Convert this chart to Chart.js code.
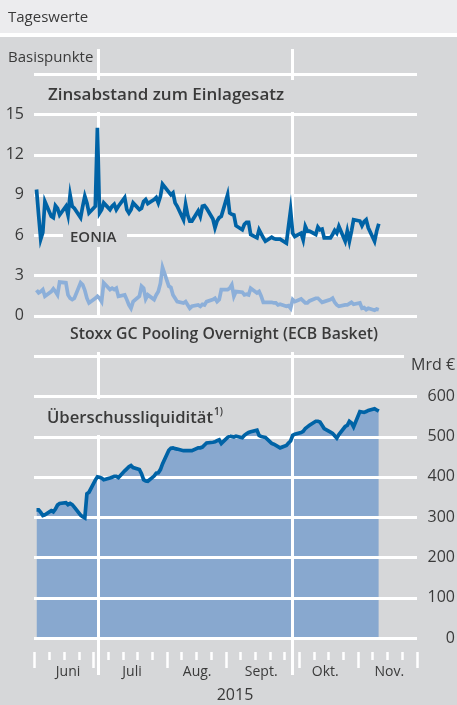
<!DOCTYPE html>
<html>
<head>
<meta charset="utf-8">
<script src="https://cdn.jsdelivr.net/npm/chart.js@4.4.1/dist/chart.umd.min.js"></script>
<style>
  html, body { margin: 0; padding: 0; background: #d6d7d9; }
  #wrap { position: relative; width: 457px; height: 705px; }
</style>
</head>
<body>
<div id="wrap"><canvas id="chart" width="457" height="705"></canvas></div>
<script>
// Tageswerte, 1 June - 11 Nov 2015, one value per business day
const eonia = [
  9.4, 7.5, 5.7, 6.2, 8.5, 7.4, 7.3, 8.2, 8.0, 7.5, 8.15, 7.5, 9.0, 8.15, 8.0, 7.3, 8.15, 8.9, 8.4, 7.65, 8.15, 14.0,
  7.65, 7.9, 8.4, 7.9, 8.15, 8.3, 7.9, 8.15, 8.8, 7.9, 7.65, 7.9, 8.4, 7.9, 8.0, 8.5, 8.65, 8.35, 8.65, 8.8, 8.4, 8.9, 9.8,
  9.2, 9.0, 9.15, 8.4, 8.15, 7.15, 8.3, 7.5, 7.05, 7.05, 7.8, 7.4, 8.15, 8.2, 8.0, 7.2, 6.55, 7.05, 7.3, 7.4, 9.0,
  7.65, 7.55, 7.5, 6.7, 6.4, 6.8, 6.95, 6.95, 6.05, 5.8, 6.4, 6.1, 5.8, 5.55, 5.85, 5.75, 5.7, 5.7, 5.7, 5.4, 6.65, 7.85,
  6.15, 5.9, 6.15, 5.65, 6.65, 6.3, 6.3, 6.05, 6.6, 6.4, 6.45, 5.8, 5.8, 6.05, 6.35, 6.15, 6.65, 5.55, 6.3, 5.55, 6.3, 7.15,
  7.05, 6.7, 7.0, 7.15, 6.55, 5.55, 6.3, 6.85
];
const stoxx = [
  1.9, 1.7, 1.8, 1.95, 1.45, 1.8, 2.0, 1.8, 1.55, 2.5, 2.45, 1.55, 1.3, 1.2, 1.3, 2.45, 2.3, 1.9, 1.3, 0.95, 1.3, 1.45,
  1.3, 1.05, 2.45, 1.95, 2.05, 1.95, 2.05, 1.45, 1.55, 1.2, 0.8, 0.55, 1.05, 1.45, 2.2, 2.05, 1.25, 1.55, 1.2, 1.55, 1.8, 2.4, 3.6,
  2.2, 2.1, 1.55, 1.3, 1.05, 0.95, 1.05, 0.8, 0.55, 0.7, 0.8, 0.7, 0.85, 0.8, 1.05, 1.2, 1.3, 1.05, 1.2, 1.95, 1.95,
  2.05, 2.3, 1.45, 1.8, 1.75, 1.55, 1.6, 1.55, 2.05, 1.7, 1.8, 1.45, 1.0, 1.0, 1.0, 0.95, 0.95, 0.8, 0.85, 0.7, 0.75, 0.55,
  1.2, 1.05, 1.25, 1.1, 0.95, 0.95, 1.1, 1.3, 1.3, 1.15, 1.0, 1.05, 1.2, 1.3, 1.0, 0.8, 0.7, 0.8, 0.8, 0.9, 1.0, 0.85,
  0.95, 0.55, 0.6, 0.45, 0.55, 0.4, 0.5, 0.45
];
// Überschussliquidität, Mrd €
const liquidity = [
  318, 318, 312, 304, 306, 316, 313, 320, 330, 334, 336, 331, 334, 331, 325, 305, 301, 298, 358, 362, 392, 400,
  399, 397, 393, 397, 399, 401, 401, 398, 415, 420, 425, 428, 423, 418, 408, 393, 390, 389, 402, 409, 410, 418, 432,
  466, 471, 472, 470, 469, 465, 465, 465, 465, 465, 472, 472, 474, 479, 484, 486, 487, 490, 492, 483, 498,
  501, 500, 499, 501, 497, 503, 507, 510, 512, 516, 503, 500, 499, 498, 483, 481, 478, 475, 472, 478, 484, 489,
  503, 506, 510, 513, 520, 524, 528, 538, 538, 536, 528, 520, 511, 508, 502, 496, 505, 525, 528, 538, 534, 524,
  562, 561, 560, 562, 565, 569, 566, 563
];
const monthNames = ['Juni', 'Juli', 'Aug.', 'Sept.', 'Okt.', 'Nov.'];
const yearLabel = '2015';
const leftTicks = [0, 3, 6, 9, 12, 15];
const rightTicks = [0, 100, 200, 300, 400, 500, 600];

// day offsets from 1 June 2015
const START = new Date(2015, 5, 1);
const dayOf = d => Math.round((d - START) / 86400000);
const businessDays = [];
for (let d = new Date(START); businessDays.length < eonia.length; d.setDate(d.getDate() + 1)) {
  const wd = d.getDay();
  if (wd !== 0 && wd !== 6) businessDays.push(dayOf(d));
}
const monthStarts = [];
for (let m = 5; m <= 11; m++) monthStarts.push(dayOf(new Date(2015, m, 1)));
const quarterLines = [dayOf(new Date(2015, 6, 1)) - 0.5, dayOf(new Date(2015, 9, 1)) - 0.5];
// Sundays; the one nearest each month start gets a long tick
const weekTicks = [];
for (let d = -1; d <= 181; d += 7) weekTicks.push(d);
const longTicks = monthStarts.map(ms =>
  weekTicks.reduce((b, w) => Math.abs(w - ms) < Math.abs(b - ms) ? w : b, weekTicks[0]));

const pts = arr => arr.map((v, i) => ({ x: businessDays[i], y: v }));

const TXT = '#3a3a3a';
const BG = '#d6d7d9';
const FONT = '"Open Sans", sans-serif';

function box(ctx, x, y, w, h) {
  ctx.fillStyle = BG;
  ctx.fillRect(x, y, w, h);
}

const decor = {
  id: 'decor',
  beforeDraw(chart) {
    const ctx = chart.ctx;
    ctx.save();
    ctx.fillStyle = BG;
    ctx.fillRect(0, 0, 457, 705);
    ctx.fillStyle = '#ececee';
    ctx.fillRect(0, 0, 457, 33);
    ctx.fillStyle = '#ffffff';
    ctx.fillRect(0, 33, 457, 4);
    ctx.restore();
  },
  afterDatasetDraw(chart, args) {
    if (args.index !== 3) return; // grid goes right on top of the area fill
    const ctx = chart.ctx, a = chart.chartArea;
    const yL = chart.scales.yL, x = chart.scales.x;
    ctx.save();
    ctx.strokeStyle = '#ffffff';
    ctx.lineWidth = 3;
    for (let v = yL.min; v <= yL.max; v += 3) {
      const py = Math.round(yL.getPixelForValue(v)) + 0.5;
      ctx.beginPath();
      ctx.moveTo(a.left, py);
      ctx.lineTo(a.right, py);
      ctx.stroke();
    }
    quarterLines.forEach(d => {
      const px = Math.round(x.getPixelForValue(d)) + 0.5;
      ctx.beginPath();
      ctx.moveTo(px, 49);
      ctx.lineTo(px, 675);
      ctx.stroke();
    });
    ctx.restore();
  },
  afterDraw(chart) {
    const ctx = chart.ctx, x = chart.scales.x;
    ctx.save();
    // week / month ticks
    ctx.strokeStyle = '#ffffff';
    ctx.lineWidth = 2.5;
    weekTicks.forEach(d => {
      const px = Math.round(x.getPixelForValue(d)) + 0.5;
      ctx.beginPath();
      ctx.moveTo(px, 652);
      ctx.lineTo(px, longTicks.includes(d) ? 668 : 660);
      ctx.stroke();
    });

    // label boxes hiding the grid
    box(ctx, 45, 80, 255, 32);
    box(ctx, 63, 226, 64, 21);
    box(ctx, 66, 318, 316, 34);
    box(ctx, 45, 399, 185, 36);
    box(ctx, 404, 350, 53, 28);

    ctx.fillStyle = TXT;
    ctx.textBaseline = 'alphabetic';
    ctx.textAlign = 'left';
    ctx.font = '15px ' + FONT;
    ctx.fillText('Tageswerte', 8, 22);
    ctx.fillText('Basispunkte', 8, 62);
    ctx.font = '16px ' + FONT;
    ctx.fillText('Mrd €', 411, 370);

    ctx.font = '600 17px ' + FONT;
    ctx.fillText('Zinsabstand zum Einlagesatz', 48, 100, 247);
    ctx.fillText('Stoxx GC Pooling Overnight (ECB Basket)', 70, 339, 308);
    const ul = 'Überschussliquidität';
    const ulW = Math.min(ctx.measureText(ul).width, 166);
    ctx.fillText(ul, 47, 423, 166);
    ctx.font = '600 10px ' + FONT;
    ctx.fillText('1)', 47 + ulW + 1, 415);
    ctx.font = '600 15px ' + FONT;
    ctx.fillText('EONIA', 70, 242, 48);

    // month labels
    ctx.textAlign = 'center';
    ctx.font = '14px ' + FONT;
    monthNames.forEach((m, i) => {
      const mid = (monthStarts[i] + monthStarts[i + 1]) / 2;
      ctx.fillText(m, x.getPixelForValue(mid), 676);
    });
    ctx.font = '16px ' + FONT;
    ctx.fillText(yearLabel, 235, 700);
    ctx.restore();
  }
};

const tickFont = { family: '"Open Sans", sans-serif', size: 16 };

new Chart(document.getElementById('chart'), {
  type: 'line',
  data: {
    datasets: [
      { data: pts(eonia), yAxisID: 'yL', borderColor: '#0063a6', borderWidth: 3.7, pointRadius: 0, fill: false, order: 0 },
      { data: pts(stoxx), yAxisID: 'yL', borderColor: '#8cafd9', borderWidth: 3.7, pointRadius: 0, fill: false, order: 1 },
      { data: pts(liquidity), yAxisID: 'yR', borderColor: '#0063a6', borderWidth: 3.7, pointRadius: 0, fill: false, order: 2 },
      { data: pts(liquidity), yAxisID: 'yR', borderWidth: 0, borderColor: 'rgba(0,0,0,0)', backgroundColor: '#88a8cf', pointRadius: 0, fill: 'origin', order: 3 }
    ]
  },
  options: {
    responsive: false,
    animation: false,
    events: [],
    layout: { padding: { top: 74, right: 2, bottom: 67, left: 0 } },
    plugins: { legend: { display: false }, tooltip: { enabled: false } },
    scales: {
      x: { type: 'linear', min: -1.2, max: 181.2, display: false },
      yL: {
        position: 'left', min: -24, max: 18,
        grid: { display: false, drawTicks: false }, border: { display: false },
        ticks: { stepSize: 3, padding: 10, color: TXT, font: tickFont,
          callback: v => leftTicks.includes(v) ? String(v) : '' },
        afterFit: s => { s.width = 34; }
      },
      yR: {
        position: 'right', min: 0, max: 1400,
        grid: { display: false, drawTicks: false }, border: { display: false },
        ticks: { stepSize: 100, crossAlign: 'far', color: TXT, font: tickFont,
          callback: v => rightTicks.includes(v) ? String(v) : '' },
        afterFit: s => { s.width = 38; }
      }
    }
  },
  plugins: [decor]
});
</script>
</body>
</html>
